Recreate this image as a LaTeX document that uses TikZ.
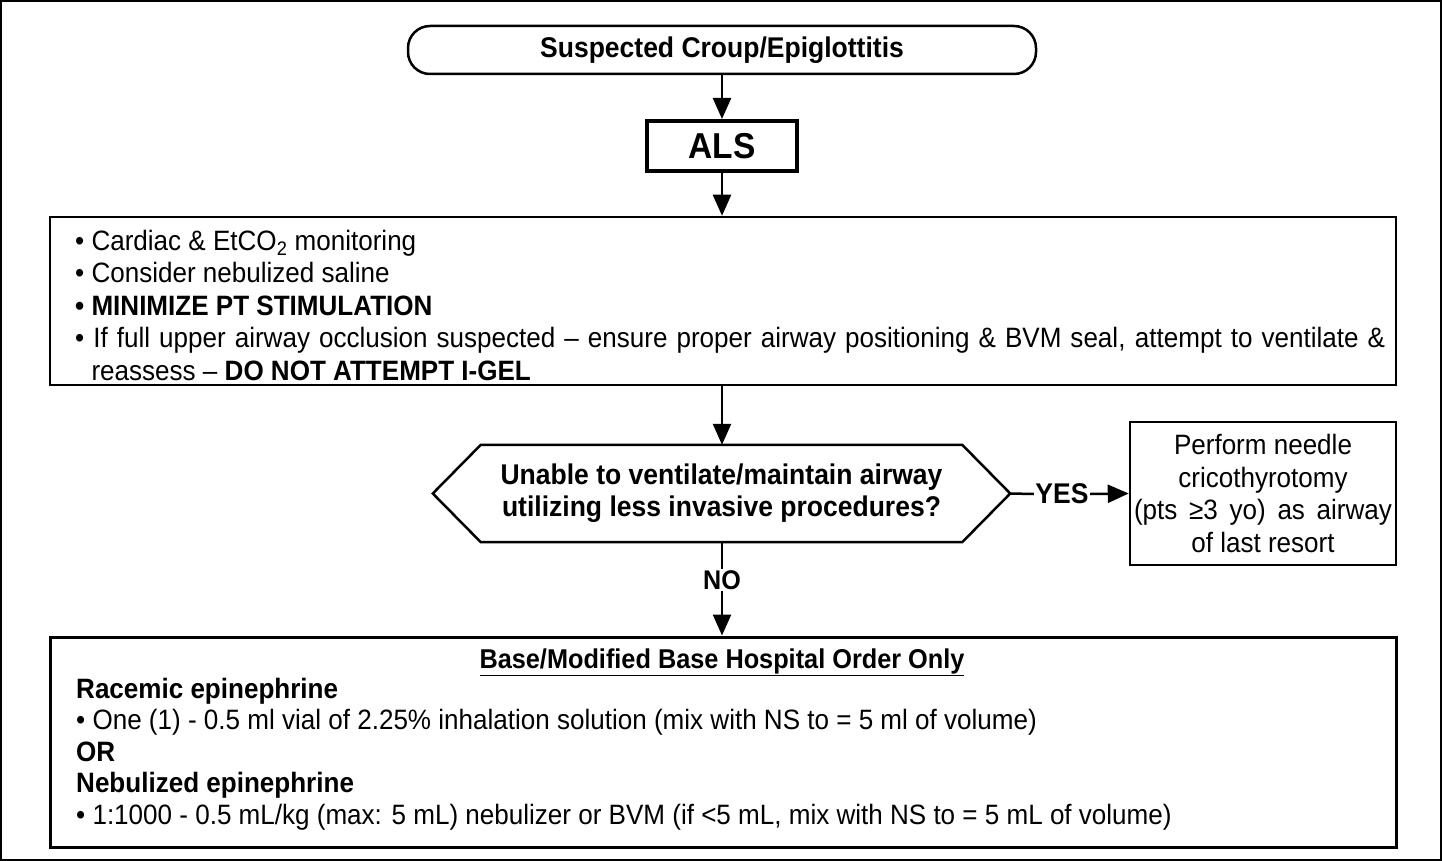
\documentclass[tikz,border=0pt]{standalone}
\usepackage{fontspec}
\setmainfont{Liberation Sans}[FakeStretch=0.93]
\usetikzlibrary{arrows.meta}
\begin{document}
\begin{tikzpicture}[x=1pt,y=-1pt,
  base/.style={font=\fontsize{28}{32.5}\selectfont},
  term/.style={draw,line width=2.5pt,rounded corners=22pt,minimum width=628pt,minimum height=48pt,inner sep=0pt,font=\fontsize{28.5}{30}\selectfont\bfseries},
  als/.style={draw,line width=4pt,minimum width=150pt,minimum height=50pt,inner sep=0pt,font=\fontsize{36}{40}\selectfont\bfseries},
  bigbox/.style={draw,line width=2.5pt,minimum width=1346pt,inner sep=0pt},
  txtblock/.style={base,align=left,inner sep=0pt},
  rbox/.style={draw,line width=2.5pt,minimum width=266pt,minimum height=143pt,align=center,inner sep=0pt,font=\fontsize{28}{32.5}\selectfont},
  hexlabel/.style={font=\fontsize{28.5}{32}\selectfont\bfseries,align=center,minimum width=577pt,minimum height=97pt,inner sep=0pt},
  lbl/.style={font=\fontsize{28.5}{30}\selectfont\bfseries,inner sep=1.5pt},
  conn/.style={line width=2.5pt},
  arr/.style={line width=2.5pt,-{Triangle[length=21pt,width=18pt]}}
]
\useasboundingbox (0,0) rectangle (1442,861);
\draw[line width=2pt] (1,1) rectangle (1441,860);

\node[term] (start) at (722,50) {Suspected Croup/Epiglottitis};
\node[als] (als) at (722,146) {ALS};

\node[bigbox,minimum height=168pt] (b1) at (723,301) {};
\node[txtblock,anchor=west] (b1t) at (75,305) {%
• Cardiac \& EtCO\textsubscript{2} monitoring\\
• Consider nebulized saline\\
\textbf{• MINIMIZE PT STIMULATION}\\
\makebox[1310pt][s]{• If full upper airway occlusion suspected – ensure proper airway positioning \& BVM seal, attempt to ventilate \&}\\
\hphantom{• }reassess – \textbf{DO NOT ATTEMPT I-GEL}};

\node[hexlabel] (q) at (721.5,493.5) {Unable to ventilate/maintain airway\\utilizing less invasive procedures?};
\draw[line width=2.5pt,line join=miter] (q.west) -- ([xshift=48pt]q.north west) -- ([xshift=-48pt]q.north east) -- (q.east) -- ([xshift=-48pt]q.south east) -- ([xshift=48pt]q.south west) -- cycle;

\node[lbl] (yes) at (1062,494) {YES};
\node[rbox] (rb) at (1263,493.5) {Perform needle\\cricothyrotomy\\\makebox[258pt][s]{(pts ≥3 yo) as airway}\\of last resort};

\node[lbl,font=\fontsize{27}{30}\selectfont\bfseries] (no) at (722,580) {NO};

\node[bigbox,line width=3pt,minimum height=210pt] (b2) at (723,742) {};
\node[inner sep=0pt,font=\fontsize{27.2}{30}\selectfont\bfseries] (hdr) at (722,662) {\underline{Base/Modified Base Hospital Order Only}};
\node[txtblock,anchor=west,font=\fontsize{28}{31.5}\selectfont] (b2t) at (76,754) {%
\textbf{Racemic epinephrine}\\
• One (1) - 0.5 ml vial of 2.25\% inhalation solution (mix with NS to = 5 ml of volume)\\
\textbf{OR}\\
\textbf{Nebulized epinephrine}\\
• 1:1000 - 0.5 mL/kg (max: 5 mL) nebulizer or BVM (if <5 mL, mix with NS to = 5 mL of volume)};

\draw[arr] (start.south) -- (als.north);
\draw[arr] (als.south) -- (als.south |- b1.north);
\draw[arr] (als.south |- b1.south) -- (als.south |- q.north);
\draw[conn] (q.east) -- (yes.west);
\draw[arr] (yes.east) -- (rb.west);
\draw[conn] (als.south |- q.south) -- (no.north);
\draw[arr] (no.south) -- (no.south |- b2.north);
\end{tikzpicture}
\end{document}
